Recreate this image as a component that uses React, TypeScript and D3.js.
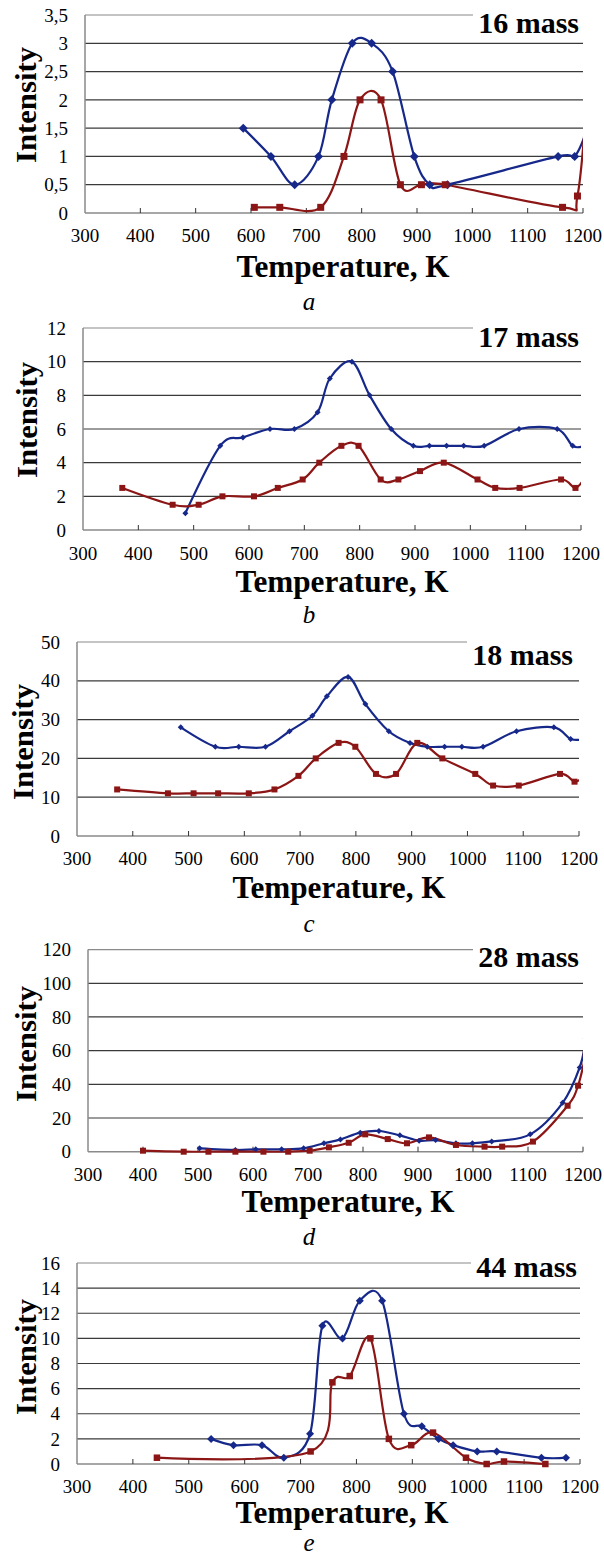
import React from "react";
import * as d3 from "d3";

// x axis, shared by all five panels
const temperatureTicks = [300, 400, 500, 600, 700, 800, 900, 1000, 1100, 1200];

// 16 mass
const m16Ticks = [0, 0.5, 1, 1.5, 2, 2.5, 3, 3.5];
const m16BlueT = [586, 636, 679, 722, 746, 783, 818, 856, 895, 923, 955, 1155, 1185, 1210];
const m16BlueV = [1.5, 1.0, 0.5, 1.0, 2.0, 3.0, 3.0, 2.5, 1.0, 0.5, 0.5, 1.0, 1.0, 1.55];
const m16RedT = [606, 652, 726, 768, 797, 835, 870, 908, 951, 1163, 1190, 1210];
const m16RedV = [0.1, 0.1, 0.1, 1.0, 2.0, 2.0, 0.5, 0.5, 0.5, 0.1, 0.3, 2.4];

// 17 mass
const m17Ticks = [0, 2, 4, 6, 8, 10, 12];
const m17BlueT = [485, 548, 589, 638, 682, 724, 746, 786, 818, 857, 897, 926, 957, 988, 1025, 1088, 1157, 1185, 1205];
const m17BlueV = [1, 5, 5.5, 6, 6, 7, 9, 10, 8, 6, 5, 5, 5, 5, 5, 6, 6, 5, 5];
const m17RedT = [371, 462, 509, 552, 609, 652, 697, 727, 767, 798, 838, 870, 909, 952, 1013, 1045, 1089, 1164, 1190, 1210];
const m17RedV = [2.5, 1.5, 1.5, 2, 2, 2.5, 3, 4, 5, 5, 3, 3, 3.5, 4, 3, 2.5, 2.5, 3, 2.5, 3.3];

// 18 mass
const m18Ticks = [0, 10, 20, 30, 40, 50];
const m18BlueT = [486, 548, 590, 638, 681, 722, 748, 786, 817, 859, 897, 928, 959, 990, 1028, 1088, 1155, 1185, 1210];
const m18BlueV = [28, 23, 23, 23, 27, 31, 36, 41, 34, 27, 24, 23, 23, 23, 23, 27, 28, 25, 25];
const m18RedT = [372, 463, 509, 553, 608, 654, 697, 728, 769, 799, 836, 872, 910, 955, 1014, 1046, 1092, 1166, 1192, 1210];
const m18RedV = [12, 11, 11, 11, 11, 12, 15.5, 20, 24, 23, 16, 16, 24, 20, 16, 13, 13, 16, 14, 15.6];

// 28 mass
const m28Ticks = [0, 20, 40, 60, 80, 100, 120];
const m28BlueT = [503, 568, 605, 652, 692, 729, 759, 795, 829, 867, 902, 932, 969, 999, 1034, 1104, 1163, 1194, 1205];
const m28BlueV = [2, 1, 1.4, 1.4, 2, 5, 7.3, 11.3, 12.3, 9.7, 6.5, 6.9, 5, 5, 6.1, 10.3, 29, 50, 67];
const m28RedT = [400, 474, 519, 568, 619, 664, 703, 738, 774, 804, 845, 880, 920, 969, 1021, 1053, 1109, 1172, 1191, 1205];
const m28RedV = [0.6, 0, 0, 0, 0, 0, 0.6, 2.6, 5.3, 10.3, 7.5, 5, 8.5, 4, 3, 3, 6, 27.3, 39.2, 58];

// 44 mass
const m44Ticks = [0, 2, 4, 6, 8, 10, 12, 14, 16];
const m44BlueT = [540, 580, 631, 670, 717, 739, 775, 806, 846, 885, 917, 947, 973, 1016, 1051, 1131, 1175];
const m44BlueV = [2, 1.5, 1.5, 0.5, 2.4, 11, 10, 13, 13, 4, 3, 2, 1.5, 1, 1, 0.5, 0.5];
const m44RedT = [443, 718, 757, 788, 825, 858, 898, 937, 996, 1033, 1064, 1138];
const m44RedV = [0.5, 1, 6.5, 7, 10, 2, 1.5, 2.5, 0.5, 0, 0.2, 0];

const BLUE = "#16288a";
const RED = "#8c1616";
const SERIF = "Liberation Serif";

const zip = (t: number[], v: number[]) => t.map((x, i) => ({ t: x, v: v[i] }));

const panels = [
  {
    id: "a", mass: "16 mass", ticks: m16Ticks, blue: zip(m16BlueT, m16BlueV), red: zip(m16RedT, m16RedV),
    left: 85, right: 583, top: 15, bottom: 213, tickY: 242, titleY: 277, titleX: 343,
    massRight: 579, massY: 33, letterY: 310, labelX: 25, labelY: 105, diamond: 4.5, square: 7,
  },
  {
    id: "b", mass: "17 mass", ticks: m17Ticks, blue: zip(m17BlueT, m17BlueV), red: zip(m17RedT, m17RedV),
    left: 83, right: 581, top: 328, bottom: 530, tickY: 560, titleY: 592, titleX: 342,
    massRight: 579, massY: 347, letterY: 623, labelX: 26, labelY: 420, diamond: 3, square: 6,
  },
  {
    id: "c", mass: "18 mass", ticks: m18Ticks, blue: zip(m18BlueT, m18BlueV), red: zip(m18RedT, m18RedV),
    left: 77, right: 579, top: 642, bottom: 836, tickY: 865, titleY: 898, titleX: 339,
    massRight: 573, massY: 665, letterY: 932, labelX: 22, labelY: 742, diamond: 3, square: 6,
  },
  {
    id: "d", mass: "28 mass", ticks: m28Ticks, blue: zip(m28BlueT, m28BlueV), red: zip(m28RedT, m28RedV),
    left: 88, right: 583, top: 949.6, bottom: 1151.7, tickY: 1181, titleY: 1212, titleX: 348,
    massRight: 579, massY: 967, letterY: 1245, labelX: 25, labelY: 1044, diamond: 3, square: 6,
  },
  {
    id: "e", mass: "44 mass", ticks: m44Ticks, blue: zip(m44BlueT, m44BlueV), red: zip(m44RedT, m44RedV),
    left: 77, right: 580, top: 1263, bottom: 1464, tickY: 1493, titleY: 1523, titleX: 342,
    massRight: 577, massY: 1277, letterY: 1551, labelX: 25, labelY: 1357, diamond: 4, square: 6.5,
  },
];

const fmt = (v: number) => String(v).replace(".", ",");

function Panel({ p }: { p: (typeof panels)[number] }) {
  const x = d3.scaleLinear().domain([300, 1200]).range([p.left, p.right]);
  const yMax = p.ticks[p.ticks.length - 1];
  const y = d3.scaleLinear().domain([0, yMax]).range([p.bottom, p.top]);

  const line = d3
    .line<{ t: number; v: number }>()
    .x((d) => x(d.t))
    .y((d) => y(d.v))
    .curve(d3.curveCardinal.tension(0));

  const clipId = `clip-${p.id}`;
  const diamondPath = (r: number) => `M0,${-r}L${r},0L0,${r}L${-r},0Z`;

  return (
    <g>
      <defs>
        <clipPath id={clipId}>
          <rect x={p.left} y={p.top - 10} width={p.right - p.left} height={p.bottom - p.top + 20} />
        </clipPath>
      </defs>

      {/* gridlines */}
      {p.ticks
        .filter((t) => t > 0)
        .map((t) => (
          <line
            key={t}
            x1={p.left}
            x2={p.right}
            y1={y(t)}
            y2={y(t)}
            stroke={t === yMax ? "#8a8a8a" : "#3a3a3a"}
            strokeWidth={1.2}
          />
        ))}

      {/* axes */}
      <line x1={p.left} x2={p.left} y1={p.top} y2={p.bottom} stroke="#8a8a8a" strokeWidth={1.5} />
      <line x1={p.left} x2={p.right} y1={p.bottom} y2={p.bottom} stroke="#8a8a8a" strokeWidth={1.5} />
      {temperatureTicks.slice(1).map((t) => (
        <line key={t} x1={x(t)} x2={x(t)} y1={p.bottom} y2={p.bottom - 5} stroke="#333" strokeWidth={1} />
      ))}

      {/* tick labels */}
      {temperatureTicks.map((t) => (
        <text key={t} x={x(t)} y={p.tickY} textAnchor="middle" fontSize={19} fontFamily={SERIF} fill="#000">
          {t}
        </text>
      ))}
      {p.ticks.map((t) => (
        <text
          key={t}
          x={p.left - 17}
          y={y(t)}
          dy="0.35em"
          textAnchor="end"
          fontSize={19}
          fontFamily={SERIF}
          fill="#000"
        >
          {fmt(t)}
        </text>
      ))}

      {/* series */}
      <g clipPath={`url(#${clipId})`}>
        <path d={line(p.blue) ?? ""} fill="none" stroke={BLUE} strokeWidth={2.2} />
        <path d={line(p.red) ?? ""} fill="none" stroke={RED} strokeWidth={2.2} />
        {p.blue.map((d, i) => (
          <path key={i} d={diamondPath(p.diamond)} transform={`translate(${x(d.t)},${y(d.v)})`} fill={BLUE} />
        ))}
        {p.red.map((d, i) => (
          <rect
            key={i}
            x={x(d.t) - p.square / 2}
            y={y(d.v) - p.square / 2}
            width={p.square}
            height={p.square}
            fill={RED}
          />
        ))}
      </g>

      {/* mass label with white box */}
      <rect x={p.massRight - 106} y={p.massY - 26} width={p.right - p.massRight + 110} height={30} fill="#fff" />
      <text
        x={p.massRight}
        y={p.massY}
        textAnchor="end"
        fontSize={30}
        fontWeight="bold"
        fontFamily={SERIF}
        fill="#000"
      >
        {p.mass}
      </text>

      {/* axis titles */}
      <text
        x={p.titleX}
        y={p.titleY}
        textAnchor="middle"
        fontSize={32}
        fontWeight="bold"
        fontFamily={SERIF}
        textLength={213}
        lengthAdjust="spacingAndGlyphs"
        fill="#000"
      >
        Temperature, K
      </text>
      <text
        transform={`translate(${p.labelX},${p.labelY}) rotate(-90)`}
        textAnchor="middle"
        dy="0.35em"
        fontSize={30}
        fontWeight="bold"
        fontFamily={SERIF}
        textLength={116}
        lengthAdjust="spacingAndGlyphs"
        fill="#000"
      >
        Intensity
      </text>
      <text x={309} y={p.letterY} textAnchor="middle" fontSize={25} fontStyle="italic" fontFamily={SERIF} fill="#000">
        {p.id}
      </text>
    </g>
  );
}

export default function App() {
  return (
    <>
      <style>{`body{margin:0}`}</style>
      <svg width={604} height={1558} viewBox="0 0 604 1558" style={{ display: "block", background: "#fff" }}>
        {panels.map((p) => (
          <Panel key={p.id} p={p} />
        ))}
      </svg>
    </>
  );
}
